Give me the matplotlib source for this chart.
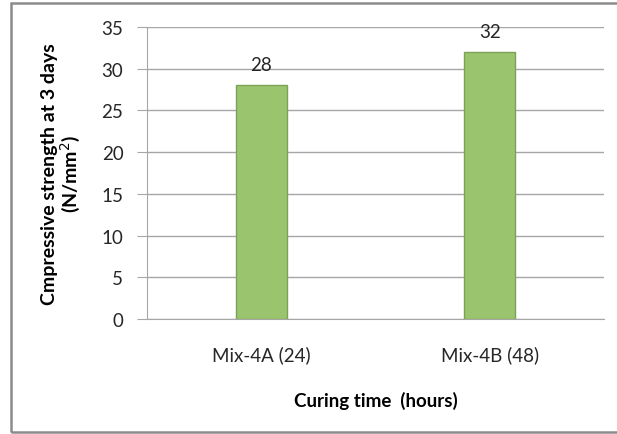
import matplotlib.pyplot as plt
from matplotlib.patches import Rectangle

# Strength values per mix
mixes = ['Mix-4A (24)', 'Mix-4B (48)']
strength = [28, 32]
y_ticks = [0, 5, 10, 15, 20, 25, 30, 35]

plt.rcParams['font.family'] = ['Lato', 'DejaVu Sans']

fig = plt.figure(figsize=(6.17, 4.35), dpi=100)
ax = fig.add_axes([147 / 617, 1 - 320 / 435, 457 / 617, 292 / 435])

# outer frame of the chart
fig.patches.append(Rectangle((11 / 617, 2 / 435), 0.99, 429 / 435,
                             transform=fig.transFigure, fill=False,
                             edgecolor='#8c8c8c', linewidth=1.8))

x = range(len(mixes))
bars = ax.bar(x, strength, width=0.225, color='#9bc46f', edgecolor='#7aa356',
              linewidth=1.0, zorder=3)
for xi, v in zip(x, strength):
    ax.text(xi, v + 2.5, str(v), ha='center', va='center', fontsize=13.5,
            color='#262626')

ax.set_xlim(-0.5, 1.5)
ax.set_ylim(0, 35)
ax.set_yticks(y_ticks)
ax.set_xticks(list(x))
ax.set_xticklabels(mixes)
ax.yaxis.grid(True, color='#a6a6a6', linewidth=1.0, zorder=0)
ax.set_axisbelow(True)

for side in ['top', 'right']:
    ax.spines[side].set_visible(False)
ax.spines['left'].set_color('#a6a6a6')
ax.spines['bottom'].set_color('#a6a6a6')
ax.tick_params(axis='y', length=7, color='#a6a6a6', labelsize=13.5,
               labelcolor='#262626', pad=10)
ax.tick_params(axis='x', length=0, labelsize=13.5, labelcolor='#262626', pad=19)

ax.set_xlabel('Curing time  (hours)', fontsize=13.5, fontweight='bold',
              labelpad=20)
ax.set_ylabel('Cmpressive strength at 3 days\n(N/mm$^2$)', fontsize=14,
              fontweight='bold', labelpad=14, linespacing=1.0)

fig.savefig('out.png', dpi=100)
